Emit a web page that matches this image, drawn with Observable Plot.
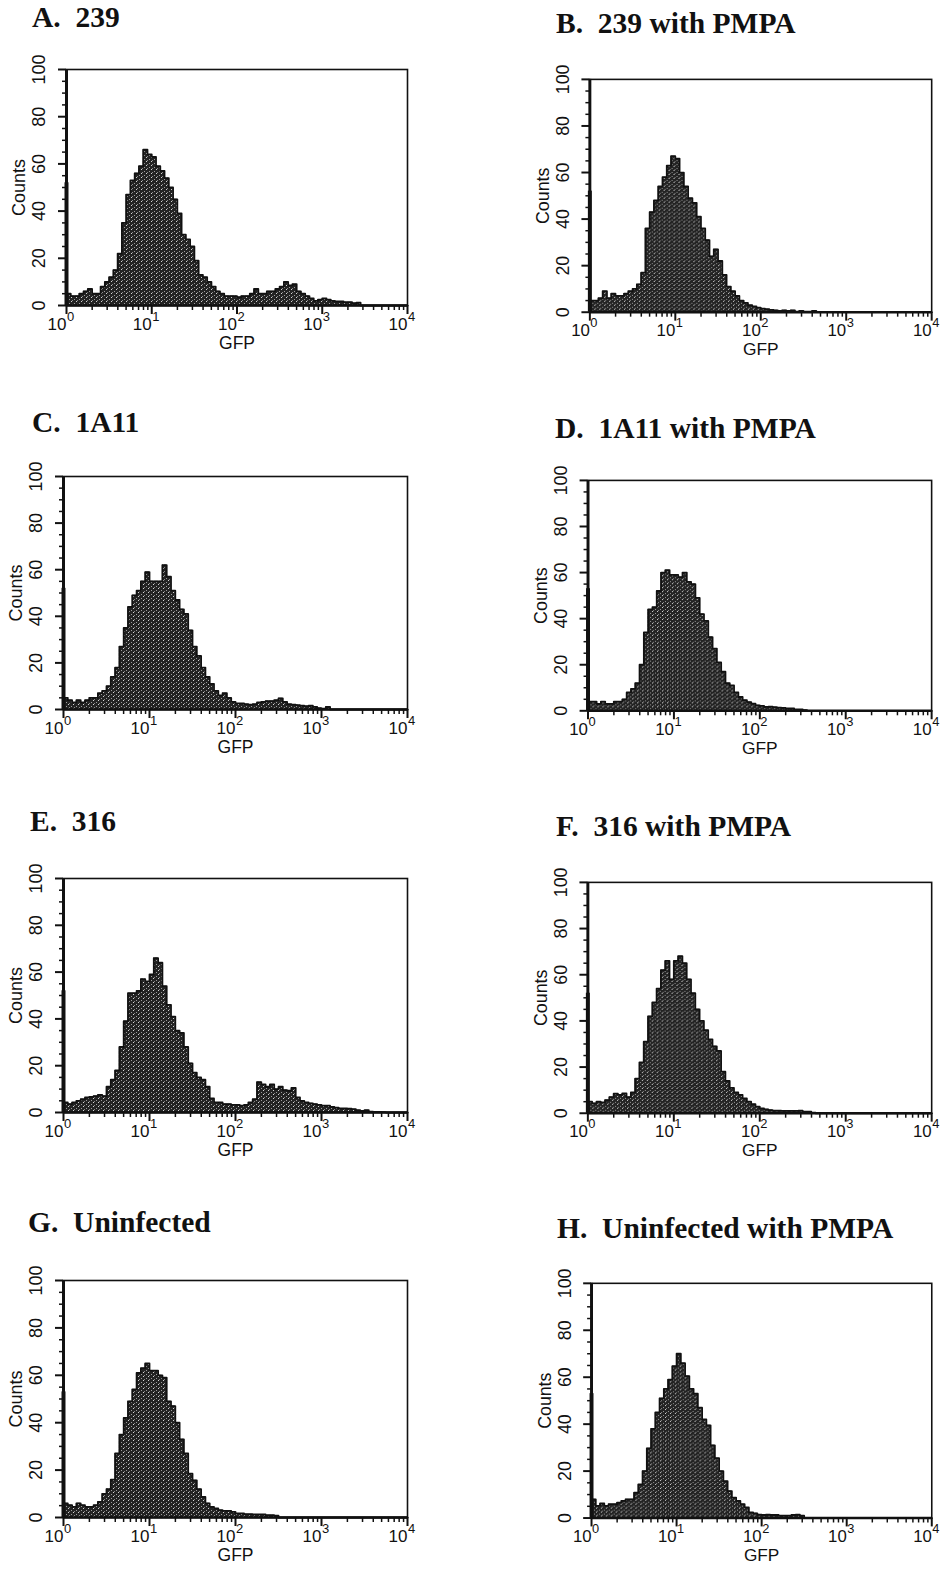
<!DOCTYPE html>
<html>
<head>
<meta charset="utf-8">
<script src="https://cdn.jsdelivr.net/npm/d3@7"></script>
<script src="https://cdn.jsdelivr.net/npm/@observablehq/plot@0.6"></script>
<style>
  html, body { margin: 0; padding: 0; background: #fff; }
  #page { position: relative; width: 951px; height: 1575px; background: #fff; overflow: hidden; }
  .title { position: absolute; font-family: "Liberation Serif", "Times New Roman", serif; font-weight: bold;
           font-size: 29.5px; line-height: 29.5px; white-space: pre; color: #111; }
  .panel { position: absolute; }
</style>
</head>
<body>
<div id="page"></div>
<script>
// ---- channel grid (log10 of GFP, bin starts) ----
const channelLog = [
  0.00,0.05,0.10,0.15,0.20,0.25,0.30,0.35,0.40,0.45,
  0.50,0.55,0.60,0.65,0.70,0.75,0.80,0.85,0.90,0.95,
  1.00,1.05,1.10,1.15,1.20,1.25,1.30,1.35,1.40,1.45,
  1.50,1.55,1.60,1.65,1.70,1.75,1.80,1.85,1.90,1.95,
  2.00,2.05,2.10,2.15,2.20,2.25,2.30,2.35,2.40,2.45,
  2.50,2.55,2.60,2.65,2.70,2.75,2.80,2.85,2.90,2.95,
  3.00,3.05,3.10,3.15,3.20,3.25,3.30,3.35,3.40,3.45,
  3.50,3.55,3.60,3.65,3.70,3.75,3.80,3.85,3.90,3.95
];

// ---- counts per panel ----
const countsA = [
  5,4,4,5,6,7,5,5,8,10,
  12,15,22,35,47,53,56,59,66,64,
  63,59,57,54,50,45,39,30,28,25,
  19,13,12,10,8,6,5,4,4,4,
  3.5,4,4,5,7,5,5,6,6,7,
  8,10,8.5,9,6,5,4,3,2,2.5,
  3,2.5,2,1.7,1.7,1.4,1.4,1,1.2,0,
  0,0,0,0,0,0,0,0,0,0
];
const countsB = [
  5,5,6,9,6,8,7,7,8,9,
  10,12,17,36,43,48,54,58,63,67,
  66,60,54,49,47,41,36,31,24,27,
  22,16,11,9,7,5,4,3,2.5,2,
  1.5,1.3,1,0.8,0.6,0.8,0.6,0.8,0.3,0.6,
  0.2,0.2,0.6,0,0,0,0,0,0,0,
  0,0,0,0,0,0,0,0,0,0,
  0,0,0,0,0,0,0,0,0,0
];
const countsC = [
  5,4,3,4,3,4,5,5,7,8,
  10,14,18,27,35,44,49,51,55,59,
  55,55,55,62,57,51,47,43,41,34,
  27,23,18,14,11,8,6,7,5,3.3,
  2.6,2.6,2.3,2.1,2.3,3,3.3,3.6,3.6,4,
  4.8,3.3,2.3,2.1,1.9,1.6,1.4,1.6,1.1,0.6,
  0.4,1.1,0,0,0,0,0,0,0,0,
  0,0,0,0,0,0,0,0,0,0
];
const countsD = [
  4,4,3,4,3,3,4,4,5,8,
  9.5,12,20,34,44,45,52,60,61,59,
  59,58,60,56,55,49,42,39,32,27,
  21,17,12,11,8,6,4.6,3.8,3.1,2.4,
  2.1,1.7,1.8,1.6,1.4,1.3,1,1,0.6,0.6,
  0.3,0,0,0,0,0,0,0,0,0,
  0,0,0,0,0,0,0,0,0,0,
  0,0,0,0,0,0,0,0,0,0
];
const countsE = [
  4.3,3.6,4.3,5,5.7,6.4,6.7,7,7.5,7,
  11,14,18,28,39,51,51,52,57,56,
  59,66,64,54,46,41,35,34,28,21,
  17,15,14,11,6,4.3,4.3,3.6,3.6,3.3,
  3.3,2.9,3.3,4.3,5.7,13,12,11,12,10,
  11,9.6,9.3,10.5,6.4,5,4.3,3.9,3.6,3.3,
  2.9,2.9,2.4,2.1,1.7,1.7,1.6,1.4,1,0.7,
  1,0.4,0.3,0.3,0.2,0,0,0,0,0
];
const countsF = [
  5,4.3,5,4.7,5.7,7,8.5,8,8.6,7,
  9,15,22,31,42,48,54,62,66,58,
  66,68,65,58,52,45,40,36,32,29,
  27,18,14,11,9,8,6.4,5,3.9,2.9,
  2.1,1.7,1.4,1.1,1.1,1,1,1,1,1.1,
  0.7,0.7,0.3,0,0,0,0,0,0,0,
  0,0,0,0,0,0,0,0,0,0,
  0,0,0,0,0,0,0,0,0,0
];
const countsG = [
  6,5.2,4.5,6,5.2,4.5,4.5,5.2,6.6,10,
  12,16,27,35,42,49,54,61,63,65,
  62,62,60,59,49,47,40,33,27,18.5,
  15.7,12,8.7,6,4.5,3.8,3.1,2.8,2.8,2.4,
  1.7,1.7,1.4,1.4,1.3,1.3,1.3,1,1,0.8,
  0,0,0,0,0,0,0,0,0,0,
  0,0,0,0,0,0,0,0,0,0,
  0,0,0,0,0,0,0,0,0,0
];
const countsH = [
  8,5.2,6.2,5.2,5.9,5.9,6.6,7.3,8,8,
  10.8,14.3,20,29.7,38,45,51,55,59,64.7,
  70,66,60.5,55,53,47,42,39.5,31,25.5,
  20,15.7,11.5,8.7,7.3,5.9,4.5,2.4,2,1.4,
  1.3,1.4,1.3,1.3,1,1,1,1.3,1.4,1,
  0,0,0,0,0,0,0,0,0,0,
  0,0,0,0,0,0,0,0,0,0,
  0,0,0,0,0,0,0,0,0,0
];
// first-channel pile-up spike at 10^0
const firstChannel = [52, 52, 52, 53, 52, 52, 53, 53];

const panelTitles = ["A.  239", "B.  239 with PMPA", "C.  1A11", "D.  1A11 with PMPA",
                     "E.  316", "F.  316 with PMPA", "G.  Uninfected", "H.  Uninfected with PMPA"];
const panelCounts = [countsA, countsB, countsC, countsD, countsE, countsF, countsG, countsH];

// ---- axes ----
const yMajor = [0, 20, 40, 60, 80, 100];
const yMinor = [5,10,15,25,30,35,45,50,55,65,70,75,85,90,95];
const xTickValues = [1, 10, 100, 1000, 10000];
const xTickExponents = ["0", "1", "2", "3", "4"];
const xMinor = [1, 10, 100, 1000].flatMap(d => [2,3,4,5,6,7,8,9].map(k => k * d));

// ---- layout (frame left, top, width, height; title x, baseline) ----
const layout = [
  {f: [66, 69, 341, 236],  t: [32, 28]},
  {f: [590, 79, 345, 235], t: [556, 34]},
  {f: [63, 476, 344, 233], t: [32, 433]},
  {f: [588, 480, 346, 232], t: [555, 439]},
  {f: [63, 878, 344, 234], t: [30, 832]},
  {f: [588, 882, 347, 233], t: [556, 837]},
  {f: [63, 1280, 344, 237], t: [28, 1233]},
  {f: [592, 1283, 345, 238], t: [557, 1239]}
];
const mL = 70, mR = 20, mT = 12, mB = 50;
const page = document.getElementById("page");

panelCounts.forEach((counts, i) => {
  const [fl, ft, fw, fh] = layout[i].f;
  const hist = channelLog.map((e, j) => ({x: 10 ** e, y: counts[j]}));
  hist.push({x: 10 ** 4, y: counts[counts.length - 1]});
  const pid = "stip" + i;
  const txt = {fontSize: 18, lineAnchor: "middle", fill: "#111"};

  const svg = Plot.plot({
    width: fw + mL + mR,
    height: fh + mT + mB,
    marginLeft: mL, marginRight: mR, marginTop: mT, marginBottom: mB,
    style: {fontFamily: "Liberation Sans, Arial, sans-serif", fontSize: "18px", color: "#111", background: "transparent", overflow: "visible"},
    x: {type: "log", domain: [1, 10000], axis: null},
    y: {domain: [0, 100], axis: null},
    marks: [
      Plot.areaY(hist, {x: "x", y: "y", curve: "step-after", fill: `url(#${pid})`}),
      Plot.lineY(hist, {x: "x", y: "y", curve: "step-after", stroke: "#111", strokeWidth: 1.8}),
      Plot.ruleX([{x: 1, y: firstChannel[i]}], {x: "x", y1: 0, y2: "y", stroke: "#111", strokeWidth: 4}),
      Plot.frame({stroke: "#111", strokeWidth: 1.6}),
      Plot.ruleX([1], {stroke: "#111", strokeWidth: 3}),
      Plot.ruleY([0], {stroke: "#111", strokeWidth: 2.5}),
      Plot.axisY({ticks: yMajor, tickSize: 8, tickFormat: () => "", label: null, strokeWidth: 2}),
      Plot.axisY({ticks: yMinor, tickSize: 4, tickFormat: () => "", label: null, strokeWidth: 1.5}),
      Plot.axisX({ticks: xTickValues, tickSize: 9, tickFormat: () => "", label: null, strokeWidth: 2}),
      Plot.axisX({ticks: xMinor, tickSize: 5, tickFormat: () => "", label: null, strokeWidth: 1.5}),
      Plot.text(yMajor, {...txt, y: d => d, text: d => String(d), frameAnchor: "left", textAnchor: "middle", dx: -27, rotate: -90}),
      Plot.text(["Counts"], {...txt, frameAnchor: "left", textAnchor: "middle", dx: -47, rotate: -90}),
      Plot.text(xTickValues, {...txt, x: d => d, text: () => "10", frameAnchor: "bottom", textAnchor: "end", dy: 19, fontSize: 17}),
      Plot.text(xTickValues, {...txt, x: d => d, text: (d, k) => xTickExponents[k], frameAnchor: "bottom", textAnchor: "start", dy: 11, dx: 0.5, fontSize: 13}),
      Plot.text(["GFP"], {...txt, frameAnchor: "bottom", textAnchor: "middle", dy: 38, fontSize: 17.5})
    ]
  });
  svg.insertAdjacentHTML("afterbegin",
    `<defs><pattern id="${pid}" width="5" height="4" patternUnits="userSpaceOnUse">
       <rect width="5" height="4" fill="#232323"/>
       <rect x="0" y="0" width="1" height="1" fill="#ffffff" fill-opacity="0.8"/>
       <rect x="3" y="2" width="1" height="1" fill="#ffffff" fill-opacity="0.55"/>
       <rect x="1" y="3" width="1" height="1" fill="#8a8a8a"/>
     </pattern></defs>`);

  const wrap = document.createElement("div");
  wrap.className = "panel";
  wrap.style.left = (fl - mL) + "px";
  wrap.style.top = (ft - mT) + "px";
  wrap.appendChild(svg);
  page.appendChild(wrap);

  const [tx, tb] = layout[i].t;
  const title = document.createElement("div");
  title.className = "title";
  title.textContent = panelTitles[i];
  title.style.left = tx + "px";
  title.style.top = (tb - 24.7) + "px";
  page.appendChild(title);
});
</script>
</body>
</html>
